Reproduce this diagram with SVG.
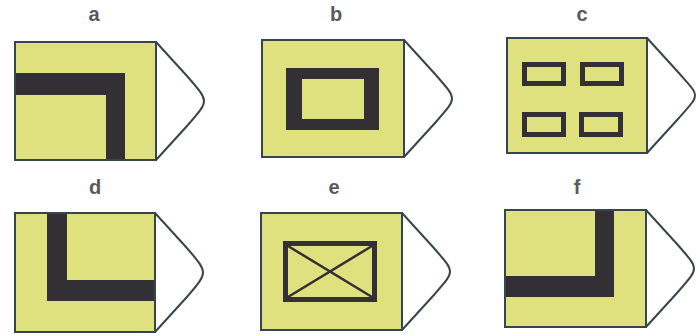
<svg xmlns="http://www.w3.org/2000/svg" width="697" height="335" viewBox="0 0 697 335">
<style>
.bg{fill:#ffffff}
.body{fill:#dfe07e;stroke:#37454c;stroke-width:2}
.tip{fill:#ffffff;stroke:#37454c;stroke-width:2;stroke-linejoin:round}
.bar{fill:#322f35}
.box{fill:none;stroke:#322f35;stroke-width:5}
.diag{stroke:#322f35;stroke-width:2.5}
.lbl{font-family:"Liberation Sans",Arial,sans-serif;font-weight:bold;font-size:20px;fill:#565a5e;text-anchor:middle}
</style>
<rect class="bg" x="0" y="0" width="697" height="335"/>
<g id="a">
<text class="lbl" x="94" y="21">a</text>
<path class="tip" d="M156,42 l31,34 c14,16 17,20 17,25 c0,5 -3,9 -17,25 L156,160"/>
<rect class="body" x="15" y="42" width="141" height="118"/>
<path class="bar" d="M16,73 H125 V159 H106 V95 H16 Z"/>
</g>
<g id="b">
<text class="lbl" x="336" y="20.5">b</text>
<path class="tip" d="M404,40 l31,34 c14,16 17,19.5 17,24.5 c0,5 -3,8.5 -17,24.5 L404,157"/>
<rect class="body" x="262" y="40" width="142" height="117"/>
<path class="bar" fill-rule="evenodd" d="M286,68 H379 V130 H286 Z M302,79 V119 H364 V79 Z"/>
</g>
<g id="c">
<text class="lbl" x="582" y="20.5">c</text>
<path class="tip" d="M647,38 l31,34 c14,16 17,18.5 17,23.5 c0,5 -3,7.5 -17,23.5 L647,153"/>
<rect class="body" x="507" y="38" width="140" height="115"/>
<rect class="box" x="524.5" y="64.5" width="39" height="19"/>
<rect class="box" x="582.5" y="64.5" width="39" height="19"/>
<rect class="box" x="524.5" y="114.5" width="39" height="20"/>
<rect class="box" x="581.5" y="114.5" width="39" height="20"/>
</g>
<g id="d">
<text class="lbl" x="95" y="194">d</text>
<path class="tip" d="M155,213 l31,34 c14,16 17,20.5 17,25.5 c0,5 -3,9.5 -17,25.5 L155,332"/>
<rect class="body" x="15" y="213" width="140" height="119"/>
<path class="bar" d="M47,214 H67 V280 H154 V301 H47 Z"/>
</g>
<g id="e">
<text class="lbl" x="334" y="194">e</text>
<path class="tip" d="M402,213 l31,34 c14,16 17,19.5 17,24.5 c0,5 -3,8.5 -17,24.5 L402,330"/>
<rect class="body" x="261" y="213" width="141" height="117"/>
<rect class="box" x="285.5" y="243.5" width="89" height="56"/>
<line class="diag" x1="288" y1="246" x2="372" y2="297"/>
<line class="diag" x1="372" y1="246" x2="288" y2="297"/>
</g>
<g id="f">
<text class="lbl" x="577" y="194">f</text>
<path class="tip" d="M646,210 l31,34 c14,16 17,19.5 17,24.5 c0,5 -3,8.5 -17,24.5 L646,327"/>
<rect class="body" x="505" y="210" width="141" height="117"/>
<path class="bar" d="M595,211 H614 V297 H506 V276 H595 Z"/>
</g>
</svg>
